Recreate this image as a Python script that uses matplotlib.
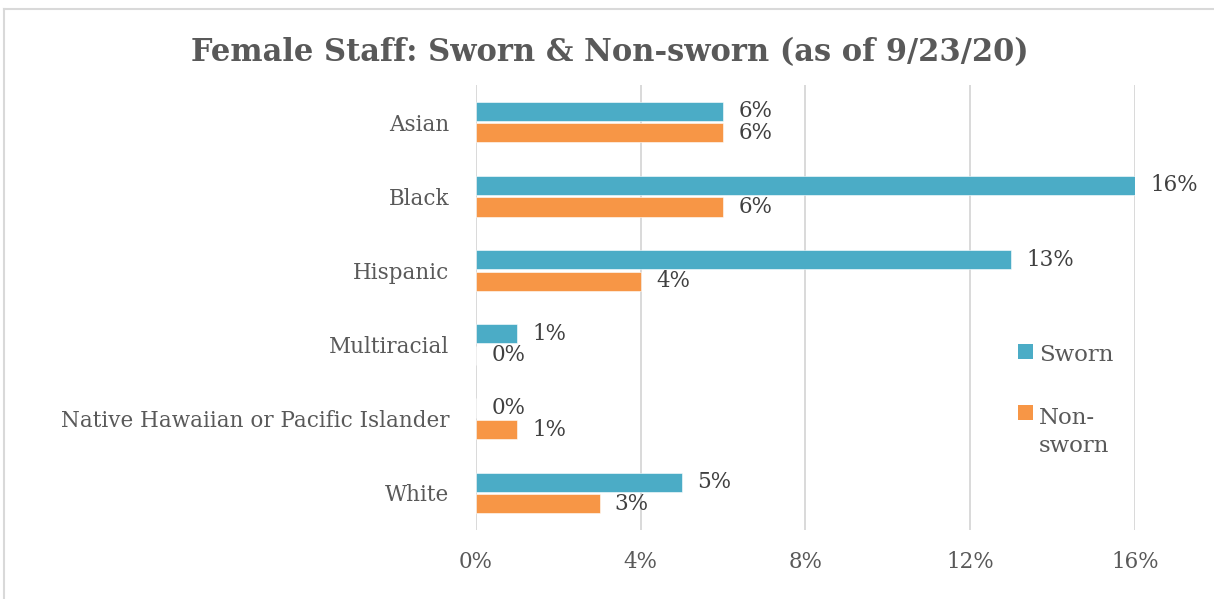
import matplotlib
matplotlib.use("Agg")
import matplotlib.pyplot as plt
from matplotlib.patches import Rectangle
from matplotlib.lines import Line2D
import numpy as np

categories = ["Asian", "Black", "Hispanic", "Multiracial",
              "Native Hawaiian or Pacific Islander", "White"]
sworn = [6, 16, 13, 1, 0, 5]
non_sworn = [6, 6, 4, 0, 1, 3]
xticks = [0, 4, 8, 12, 16]
xtick_labels = ["0%", "4%", "8%", "12%", "16%"]
series_names = ["Sworn", "Non-\nsworn"]
title = "Female Staff: Sworn & Non-sworn (as of 9/23/20)"

TEAL = "#4BACC6"
ORANGE = "#F79646"
GRID = "#D9D9D9"
TXT = "#595959"
DTXT = "#404040"

plt.rcParams['font.family'] = ['DejaVu Serif']

W, H = 1214, 599
fig = plt.figure(figsize=(W / 100, H / 100), dpi=100)
fig.patch.set_facecolor("white")

def fx(px):
    return px / W

def fy(py):
    return 1 - py / H

ax = fig.add_axes([fx(476), fy(530), fx(1135) - fx(476), fy(85) - fy(530)])

y = np.arange(len(categories))
h = 0.26
off = 0.145
ax.barh(y - off, sworn, height=h, color=TEAL, edgecolor="white", linewidth=0.4, zorder=3)
ax.barh(y + off, non_sworn, height=h, color=ORANGE, edgecolor="white", linewidth=0.4, zorder=3)

for yi, v in zip(y, sworn):
    ax.annotate(f"{v}%", (v, yi - off), xytext=(11, 0), textcoords="offset points",
                va="center", ha="left", fontsize=15.5, color=DTXT)
for yi, v in zip(y, non_sworn):
    ax.annotate(f"{v}%", (v, yi + off), xytext=(11, 0), textcoords="offset points",
                va="center", ha="left", fontsize=15.5, color=DTXT)

ax.set_xlim(0, 16)
ax.set_ylim(len(categories) - 0.5, -0.5)
ax.set_yticks(y)
ax.set_yticklabels(categories, fontsize=15.5, color=TXT)
ax.set_xticks(xticks)
ax.set_xticklabels(xtick_labels, fontsize=15.5, color=TXT)
ax.tick_params(axis="y", length=0, pad=19)
ax.tick_params(axis="x", length=0, pad=15)
ax.grid(axis="x", color=GRID, linewidth=1.4, zorder=0)
for s in ax.spines.values():
    s.set_visible(False)

fig.text(0.5025, fy(53), title, ha="center", va="center", fontsize=22,
         fontweight="bold", color=TXT)

# legend
for (top, col, name, base) in [(344, TEAL, series_names[0], 361),
                               (405, ORANGE, series_names[1], 452)]:
    fig.add_artist(Rectangle((fx(1018), fy(top + 15)), fx(15), fy(0) - fy(15),
                             transform=fig.transFigure, facecolor=col, edgecolor="none"))
    fig.text(fx(1039), fy(base), name, ha="left", va="baseline", fontsize=16.5,
             color=TXT, linespacing=1.35)

# chart frame
fig.add_artist(Line2D([fx(4), fx(4)], [fy(9), 0], transform=fig.transFigure,
                      color=GRID, linewidth=1.5))
fig.add_artist(Line2D([fx(4), 1], [fy(9), fy(9)], transform=fig.transFigure,
                      color=GRID, linewidth=1.5))

fig.savefig("out.png", dpi=100, facecolor="white")
